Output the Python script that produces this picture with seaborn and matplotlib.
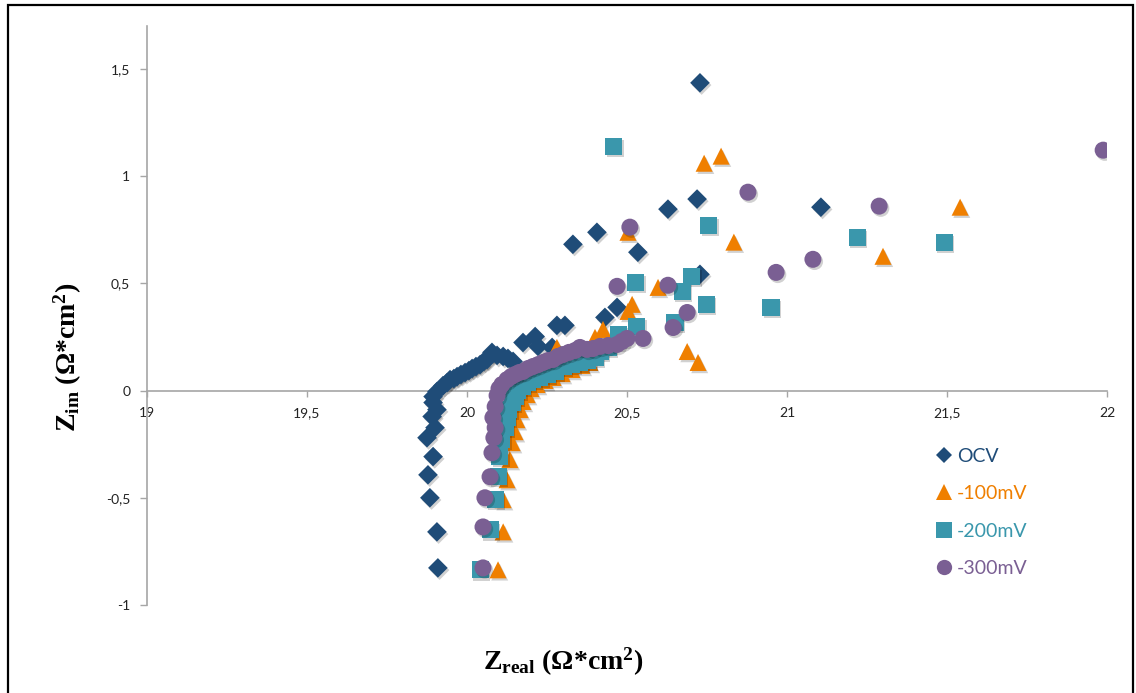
import numpy as np
import pandas as pd
import seaborn as sns
import matplotlib
matplotlib.use("Agg")
import matplotlib.pyplot as plt
import matplotlib.patheffects as pe
from matplotlib.lines import Line2D
from matplotlib.patches import Rectangle
from matplotlib.ticker import FixedLocator, FixedFormatter

# ---- impedance data (Z_real, Z_im) in Ohm*cm^2 ----
ocv_zreal = [19.909, 19.906, 19.884, 19.878, 19.894, 19.875, 19.900, 19.891, 19.906, 19.894,
             19.894, 19.906, 19.925, 19.938, 19.947, 19.959, 19.969, 19.981, 19.994, 20.006,
             20.016, 20.028, 20.041, 20.053, 20.063, 20.078, 20.094, 20.113, 20.128, 20.144,
             20.175, 20.213, 20.222, 20.266, 20.281, 20.306, 20.331, 20.406, 20.431, 20.469,
             20.534, 20.628, 20.719, 20.728, 20.728, 21.106]
ocv_zim = [-0.827, -0.659, -0.500, -0.393, -0.308, -0.220, -0.173, -0.121, -0.089, -0.056,
           -0.028, -0.005, 0.023, 0.037, 0.051, 0.056, 0.065, 0.075, 0.084, 0.093,
           0.103, 0.112, 0.121, 0.136, 0.145, 0.178, 0.164, 0.159, 0.150, 0.136,
           0.224, 0.252, 0.206, 0.201, 0.304, 0.304, 0.682, 0.738, 0.341, 0.388,
           0.645, 0.846, 0.893, 0.542, 1.435, 0.855]

m100_zreal = [20.097, 20.113, 20.113, 20.125, 20.134, 20.141, 20.150, 20.156, 20.166, 20.175,
              20.188, 20.200, 20.219, 20.244, 20.269, 20.297, 20.281, 20.328, 20.359, 20.384,
              20.400, 20.425, 20.503, 20.516, 20.503, 20.597, 20.688, 20.722, 20.741, 20.794,
              20.834, 21.300, 21.541]
m100_zim = [-0.836, -0.659, -0.509, -0.416, -0.322, -0.243, -0.192, -0.136, -0.089, -0.051,
            -0.019, 0.009, 0.028, 0.047, 0.061, 0.079, 0.201, 0.098, 0.117, 0.131,
            0.248, 0.285, 0.369, 0.402, 0.738, 0.481, 0.182, 0.131, 1.060, 1.093,
            0.692, 0.626, 0.855]

m200_zreal = [20.041, 20.072, 20.088, 20.097, 20.103, 20.109, 20.119, 20.125, 20.131, 20.141,
              20.150, 20.159, 20.172, 20.188, 20.206, 20.228, 20.250, 20.275, 20.300, 20.328,
              20.353, 20.378, 20.400, 20.416, 20.441, 20.472, 20.531, 20.528, 20.459, 20.650,
              20.672, 20.703, 20.747, 20.756, 20.950, 21.219, 21.491]
m200_zim = [-0.836, -0.650, -0.509, -0.402, -0.308, -0.229, -0.173, -0.126, -0.089, -0.056,
            -0.028, 0.000, 0.019, 0.037, 0.051, 0.061, 0.075, 0.089, 0.112, 0.121,
            0.131, 0.140, 0.154, 0.182, 0.201, 0.262, 0.299, 0.505, 1.140, 0.318,
            0.463, 0.533, 0.402, 0.771, 0.388, 0.715, 0.692]

m300_zreal = [20.050, 20.050, 20.056, 20.072, 20.078, 20.084, 20.088, 20.081, 20.088, 20.094,
              20.100, 20.109, 20.125, 20.138, 20.150, 20.163, 20.175, 20.191, 20.206, 20.222,
              20.238, 20.253, 20.269, 20.284, 20.300, 20.319, 20.338, 20.353, 20.375, 20.394,
              20.416, 20.441, 20.469, 20.484, 20.500, 20.550, 20.469, 20.509, 20.628, 20.644,
              20.688, 20.878, 20.966, 21.081, 21.288, 21.988]
m300_zim = [-0.827, -0.636, -0.500, -0.402, -0.290, -0.220, -0.173, -0.126, -0.075, -0.023,
            0.009, 0.028, 0.051, 0.065, 0.075, 0.084, 0.089, 0.103, 0.112, 0.121,
            0.131, 0.140, 0.145, 0.159, 0.168, 0.178, 0.187, 0.201, 0.192, 0.196,
            0.206, 0.210, 0.215, 0.229, 0.243, 0.243, 0.486, 0.762, 0.491, 0.294,
            0.364, 0.925, 0.551, 0.612, 0.860, 1.121]

series_names = ["OCV", "-100mV", "-200mV", "-300mV"]
series_colors = ["#1F4C78", "#EF7F00", "#3A97AC", "#7A5F93"]
series_markers = ["D", "^", "s", "o"]
series_sizes = [100, 150, 150, 150]

xticks = [19, 19.5, 20, 20.5, 21, 21.5, 22]
xtick_labels = ["19", "19,5", "20", "20,5", "21", "21,5", "22"]
yticks = [-1, -0.5, 0, 0.5, 1, 1.5]
ytick_labels = ["-1", "-0,5", "0", "0,5", "1", "1,5"]

df = pd.concat([
    pd.DataFrame({"zreal": ocv_zreal, "zim": ocv_zim, "series": "OCV"}),
    pd.DataFrame({"zreal": m100_zreal, "zim": m100_zim, "series": "-100mV"}),
    pd.DataFrame({"zreal": m200_zreal, "zim": m200_zim, "series": "-200mV"}),
    pd.DataFrame({"zreal": m300_zreal, "zim": m300_zim, "series": "-300mV"}),
], ignore_index=True)

sns.set_theme(style="white")
plt.rcParams["font.family"] = ["Lato", "DejaVu Sans"]
plt.rcParams["mathtext.fontset"] = "custom"
plt.rcParams["mathtext.rm"] = "Liberation Serif:bold"
plt.rcParams["mathtext.it"] = "Liberation Serif:bold"
plt.rcParams["mathtext.bf"] = "Liberation Serif:bold"

fig = plt.figure(figsize=(11.36, 6.93), dpi=100)
ax = fig.add_axes([147 / 1136, 1 - 605 / 693, (1107 - 147) / 1136, (605 - 26) / 693])

shadow = [pe.SimplePatchShadow(offset=(1.2, -1.6), shadow_rgbFace="black", alpha=0.18), pe.Normal()]

for name, color, marker, size in zip(series_names, series_colors, series_markers, series_sizes):
    sub = df[df["series"] == name]
    sns.scatterplot(data=sub, x="zreal", y="zim", color=color, marker=marker, s=size,
                    linewidth=0, ax=ax, legend=False, zorder=3)
    ax.collections[-1].set_path_effects(shadow)

ax.set_xlim(19, 22)
ax.set_ylim(-1, 1.7)

axis_gray = "#A6A6A6"
for side in ["top", "right"]:
    ax.spines[side].set_visible(False)
ax.spines["left"].set_color(axis_gray)
ax.spines["left"].set_linewidth(1.2)
ax.spines["left"].set_bounds(-1, 1.7)
ax.spines["bottom"].set_position(("data", 0))
ax.spines["bottom"].set_color(axis_gray)
ax.spines["bottom"].set_linewidth(1.2)

ax.xaxis.set_major_locator(FixedLocator(xticks))
ax.xaxis.set_major_formatter(FixedFormatter(xtick_labels))
ax.yaxis.set_major_locator(FixedLocator(yticks))
ax.yaxis.set_major_formatter(FixedFormatter(ytick_labels))
ax.tick_params(axis="x", which="major", direction="out", length=4, width=1, color=axis_gray,
               labelsize=10, pad=8, labelcolor="#222222", bottom=True)
ax.tick_params(axis="y", which="major", direction="out", length=5, width=1, color=axis_gray,
               labelsize=10, pad=7, labelcolor="#222222", left=True)
ax.grid(False)
ax.set_xlabel("")
ax.set_ylabel("")

label_font = dict(family="Liberation Serif", weight="bold", size=20, color="black")
fig.text(563 / 1136, 1 - 662 / 693, r"$\mathrm{Z_{real}}$ (Ω*cm$^{2}$)", ha="center", va="center",
         **label_font)
fig.text(68 / 1136, 1 - 357 / 693, r"$\mathrm{Z_{im}}$ (Ω*cm$^{2}$)", ha="center", va="center",
         rotation=90, **label_font)

handles = [Line2D([0], [0], linestyle="none", marker=m, color=c, markersize=ms, markeredgewidth=0)
           for m, c, ms in zip(series_markers, series_colors, [8, 11, 11, 11])]
leg = ax.legend(handles, series_names, loc="upper left", bbox_to_anchor=(926 / 1136, 1 - 438 / 693),
                bbox_transform=fig.transFigure, frameon=False, fontsize=14, labelspacing=1.05,
                handlelength=0.8, handletextpad=0.3, borderpad=0)
for txt, c in zip(leg.get_texts(), series_colors):
    txt.set_color(c)

fig.patches.append(Rectangle((8 / 1136, -0.02), (1133 - 8) / 1136, 1.02 - 5 / 693,
                             transform=fig.transFigure, fill=False, edgecolor="black", linewidth=1.6))

fig.savefig("out.png", dpi=100)
